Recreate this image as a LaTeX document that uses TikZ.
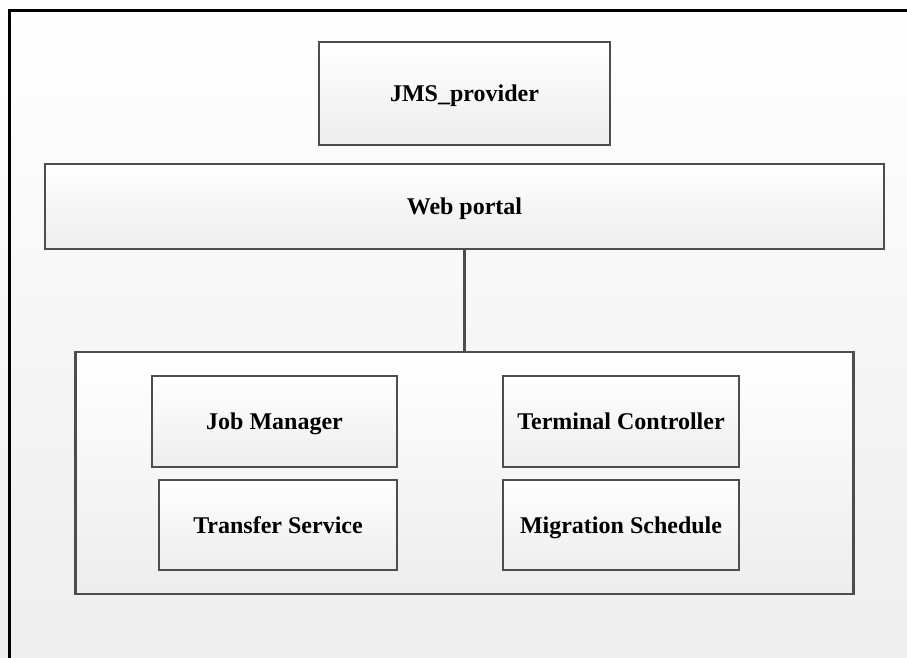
\documentclass[tikz,border=0pt]{standalone}
\usepackage{fontspec}
\setmainfont{Liberation Serif}
\definecolor{boxgray}{HTML}{4D4D4D}
\definecolor{boxfill}{HTML}{EDEDED}
\definecolor{bgfill}{HTML}{EEEEEE}
\tikzset{
  box/.style={draw=boxgray, line width=2.5pt, top color=white, bottom color=boxfill,
    font=\fontsize{24}{28}\selectfont\bfseries, text height=16pt, text depth=0pt,
    inner sep=0pt, rectangle},
  link/.style={draw=boxgray, line width=3pt}
}
\begin{document}
\begin{tikzpicture}[x=1pt,y=-1pt]
\useasboundingbox (0,0) rectangle (907,658);
\fill[top color=white, bottom color=bgfill] (0,0) rectangle (907,658);
\clip (0,0) rectangle (907,658);
\draw[black, line width=3pt] (9,11) rectangle (920,670);
\node[box, minimum width=291pt, minimum height=103pt] (jms) at (464.5,93.5) {JMS\_provider};
\node[box, minimum width=839pt, minimum height=85pt] (web) at (464.5,206.5) {Web portal};
\node[box, minimum width=778pt, minimum height=242pt] (big) at (464.5,473) {};
\node[box, minimum width=245pt, minimum height=91pt] (job) at (274.5,421.5) {Job Manager};
\node[box, minimum width=238pt, minimum height=90pt] (tra) at (278,525) {Transfer Service};
\node[box, minimum width=236pt, minimum height=91pt] (ter) at (621,421.5) {Terminal Controller};
\node[box, minimum width=236pt, minimum height=90pt] (mig) at (621,525) {Migration Schedule};
\draw[link] (web.south) -- (big.north);
\end{tikzpicture}
\end{document}
